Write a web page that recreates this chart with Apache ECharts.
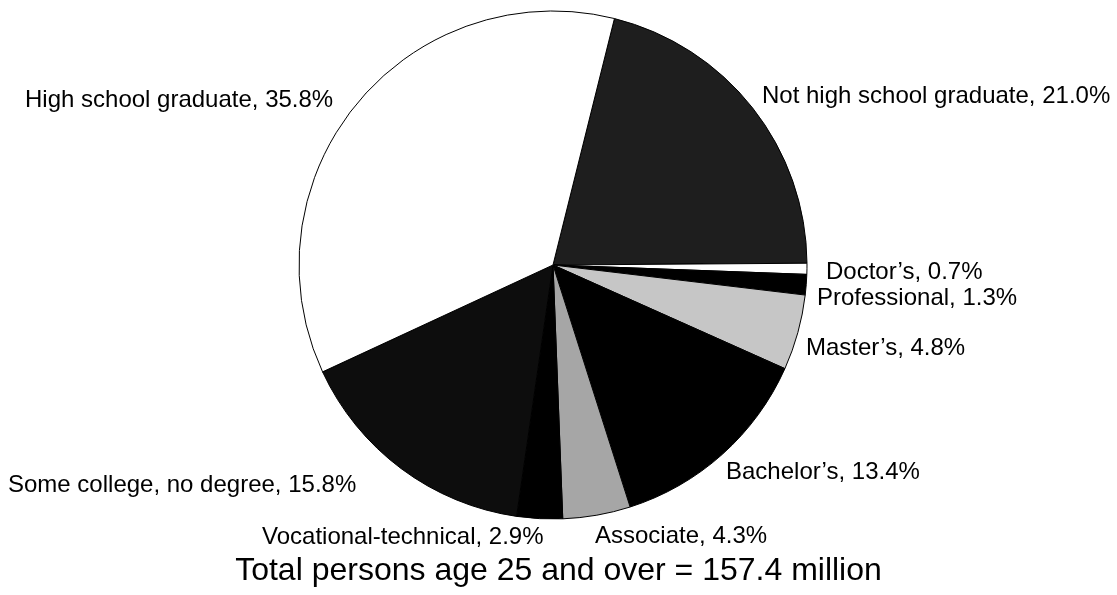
<!DOCTYPE html>
<html>
<head>
<meta charset="utf-8">
<script src="https://cdn.jsdelivr.net/npm/echarts@6/dist/echarts.min.js"></script>
<style>
  html, body { margin: 0; padding: 0; background: #fff; }
  #chart { width: 1117px; height: 595px; }
</style>
</head>
<body>
<div id="chart"></div>
<script>
// 数据
var categories = [
  'Not high school graduate',
  'Doctor\u2019s',
  'Professional',
  'Master\u2019s',
  'Bachelor\u2019s',
  'Associate',
  'Vocational-technical',
  'Some college, no degree',
  'High school graduate'
]
var shares = [21.0, 0.7, 1.3, 4.8, 13.4, 4.3, 2.9, 15.8, 35.8]
var fills = ['#1e1e1e', '#ffffff', '#000000', '#c6c6c6', '#000000', '#a6a6a6', '#000000', '#0d0d0d', '#ffffff']
var totalText = 'Total persons age 25 and over = 157.4 million'

// 标签位置 (left x, middle y)
var labelPos = [
  [762, 96], [826, 272], [817, 298], [806, 348], [726, 472],
  [595, 536], [262, 537], [8, 485], [25, 100]
]

var chart = echarts.init(document.getElementById('chart'))

var option = {
  backgroundColor: '#fff',
  animation: false,
  title: {
    text: totalText,
    left: 'center',
    top: 550,
    textStyle: {
      fontFamily: 'Liberation Sans, Arial, sans-serif',
      fontSize: 32,
      fontWeight: 'normal',
      color: '#000'
    }
  },
  series: [{
    type: 'pie',
    center: [553, 265],
    radius: 254,
    startAngle: 76,
    clockwise: true,
    minAngle: 0,
    avoidLabelOverlap: false,
    itemStyle: {
      borderColor: '#000',
      borderWidth: 1
    },
    label: {
      show: true,
      position: 'outside',
      formatter: function (p) {
        return p.name + ', ' + p.value.toFixed(1) + '%'
      },
      fontFamily: 'Liberation Sans, Arial, sans-serif',
      fontSize: 24,
      color: '#000'
    },
    labelLine: { show: false },
    labelLayout: function (params) {
      var pos = labelPos[params.dataIndex]
      return {
        x: pos[0],
        y: pos[1],
        align: 'left',
        verticalAlign: 'middle'
      }
    },
    emphasis: { disabled: true },
    data: categories.map(function (name, i) {
      return { name: name, value: shares[i], itemStyle: { color: fills[i] } }
    })
  }]
}

chart.setOption(option)
</script>
</body>
</html>
